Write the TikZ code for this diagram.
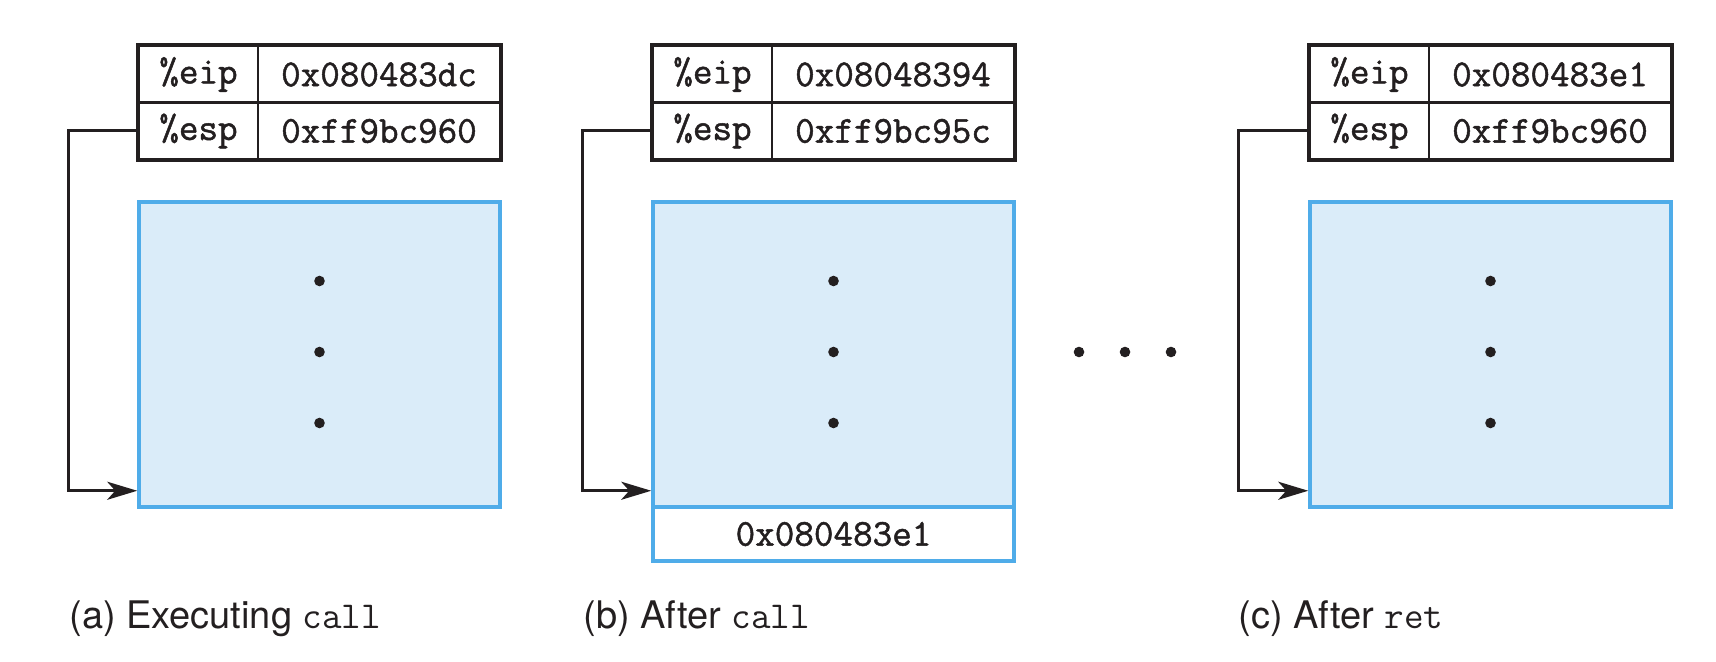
\documentclass[tikz,border=0pt]{standalone}
\usepackage{fontspec}
\setmainfont{TeX Gyre Heros}
\newfontfamily\regfont{Latin Modern Mono}[FakeBold=1.3]
\usetikzlibrary{arrows.meta}
\definecolor{ink}{HTML}{231F20}
\definecolor{stackline}{HTML}{4FACE9}
\definecolor{stackfill}{HTML}{DAECF9}
\tikzset{
  cellname/.style={draw=ink, line width=1pt, minimum width=59.5pt, minimum height=28.5pt, inner sep=0pt, font=\regfont\fontsize{19}{19}\selectfont, text=ink},
  cellval/.style={cellname, minimum width=121pt},
  regframe/.style={draw=ink, line width=2pt},
  stackbox/.style={draw=stackline, fill=stackfill, line width=1.75pt, minimum width=180.5pt, minimum height=152.5pt, inner sep=0pt},
  retcell/.style={draw=stackline, fill=white, line width=1.75pt, minimum width=180.5pt, minimum height=27pt, inner sep=0pt, font=\regfont\fontsize{19}{19}\selectfont, text=ink},
  ptr/.style={draw=ink, line width=1.5pt, -{Stealth[length=15pt, width=9pt, inset=4pt]}},
  capt/.style={anchor=base west, inner sep=0pt, font=\fontsize{19}{19}\selectfont, text=ink},
  stackdot/.style={fill=ink}
}
\begin{document}
\begin{tikzpicture}[x=0.5pt, y=-0.5pt]
\useasboundingbox (0,0) rectangle (1716,662);

% ---------- panel (a)
\node[cellname] (aeipN) at (198.5,74.5) {\%eip};
\node[cellval]  (aeipV) at (379,74.5)   {0x080483dc};
\node[cellname] (aespN) at (198.5,131)  {\%esp};
\node[cellval]  (aespV) at (379,131)    {0xff9bc960};
\draw[regframe] (aeipN.north west) rectangle (aespV.south east);
\node[stackbox] (abox) at (319.5,354.5) {};
\fill[stackdot] (319.5,281) circle[radius=2.65pt];
\fill[stackdot] (319.5,352) circle[radius=2.65pt];
\fill[stackdot] (319.5,423) circle[radius=2.65pt];
\draw[ptr] (aespN.west) -- ++(-70,0) |- ([yshift=9pt]abox.south west);
\node[capt] (capa) at (69,628) {(a) Executing \texttt{call}};

% ---------- panel (b)
\node[cellname] (beipN) at (712.5,74.5) {\%eip};
\node[cellval]  (beipV) at (893,74.5)   {0x08048394};
\node[cellname] (bespN) at (712.5,131)  {\%esp};
\node[cellval]  (bespV) at (893,131)    {0xff9bc95c};
\draw[regframe] (beipN.north west) rectangle (bespV.south east);
\node[stackbox] (bbox) at (833.5,354.5) {};
\node[retcell] (bret) at (833.5,534) {0x080483e1};
\fill[stackdot] (833.5,281) circle[radius=2.65pt];
\fill[stackdot] (833.5,352) circle[radius=2.65pt];
\fill[stackdot] (833.5,423) circle[radius=2.65pt];
\draw[ptr] (bespN.west) -- ++(-70,0) |- ([yshift=9pt]bbox.south west);
\node[capt] (capb) at (583,628) {(b) After \texttt{call}};

% ---------- ellipsis between (b) and (c)
\fill[stackdot] (1079,352) circle[radius=2.65pt];
\fill[stackdot] (1125,352) circle[radius=2.65pt];
\fill[stackdot] (1171,352) circle[radius=2.65pt];

% ---------- panel (c)
\node[cellname] (ceipN) at (1369.5,74.5) {\%eip};
\node[cellval]  (ceipV) at (1550,74.5)   {0x080483e1};
\node[cellname] (cespN) at (1369.5,131)  {\%esp};
\node[cellval]  (cespV) at (1550,131)    {0xff9bc960};
\draw[regframe] (ceipN.north west) rectangle (cespV.south east);
\node[stackbox] (cbox) at (1490.5,354.5) {};
\fill[stackdot] (1490.5,281) circle[radius=2.65pt];
\fill[stackdot] (1490.5,352) circle[radius=2.65pt];
\fill[stackdot] (1490.5,423) circle[radius=2.65pt];
\draw[ptr] (cespN.west) -- ++(-71,0) |- ([yshift=9pt]cbox.south west);
\node[capt] (capc) at (1238,628) {(c) After \texttt{ret}};
\end{tikzpicture}
\end{document}
